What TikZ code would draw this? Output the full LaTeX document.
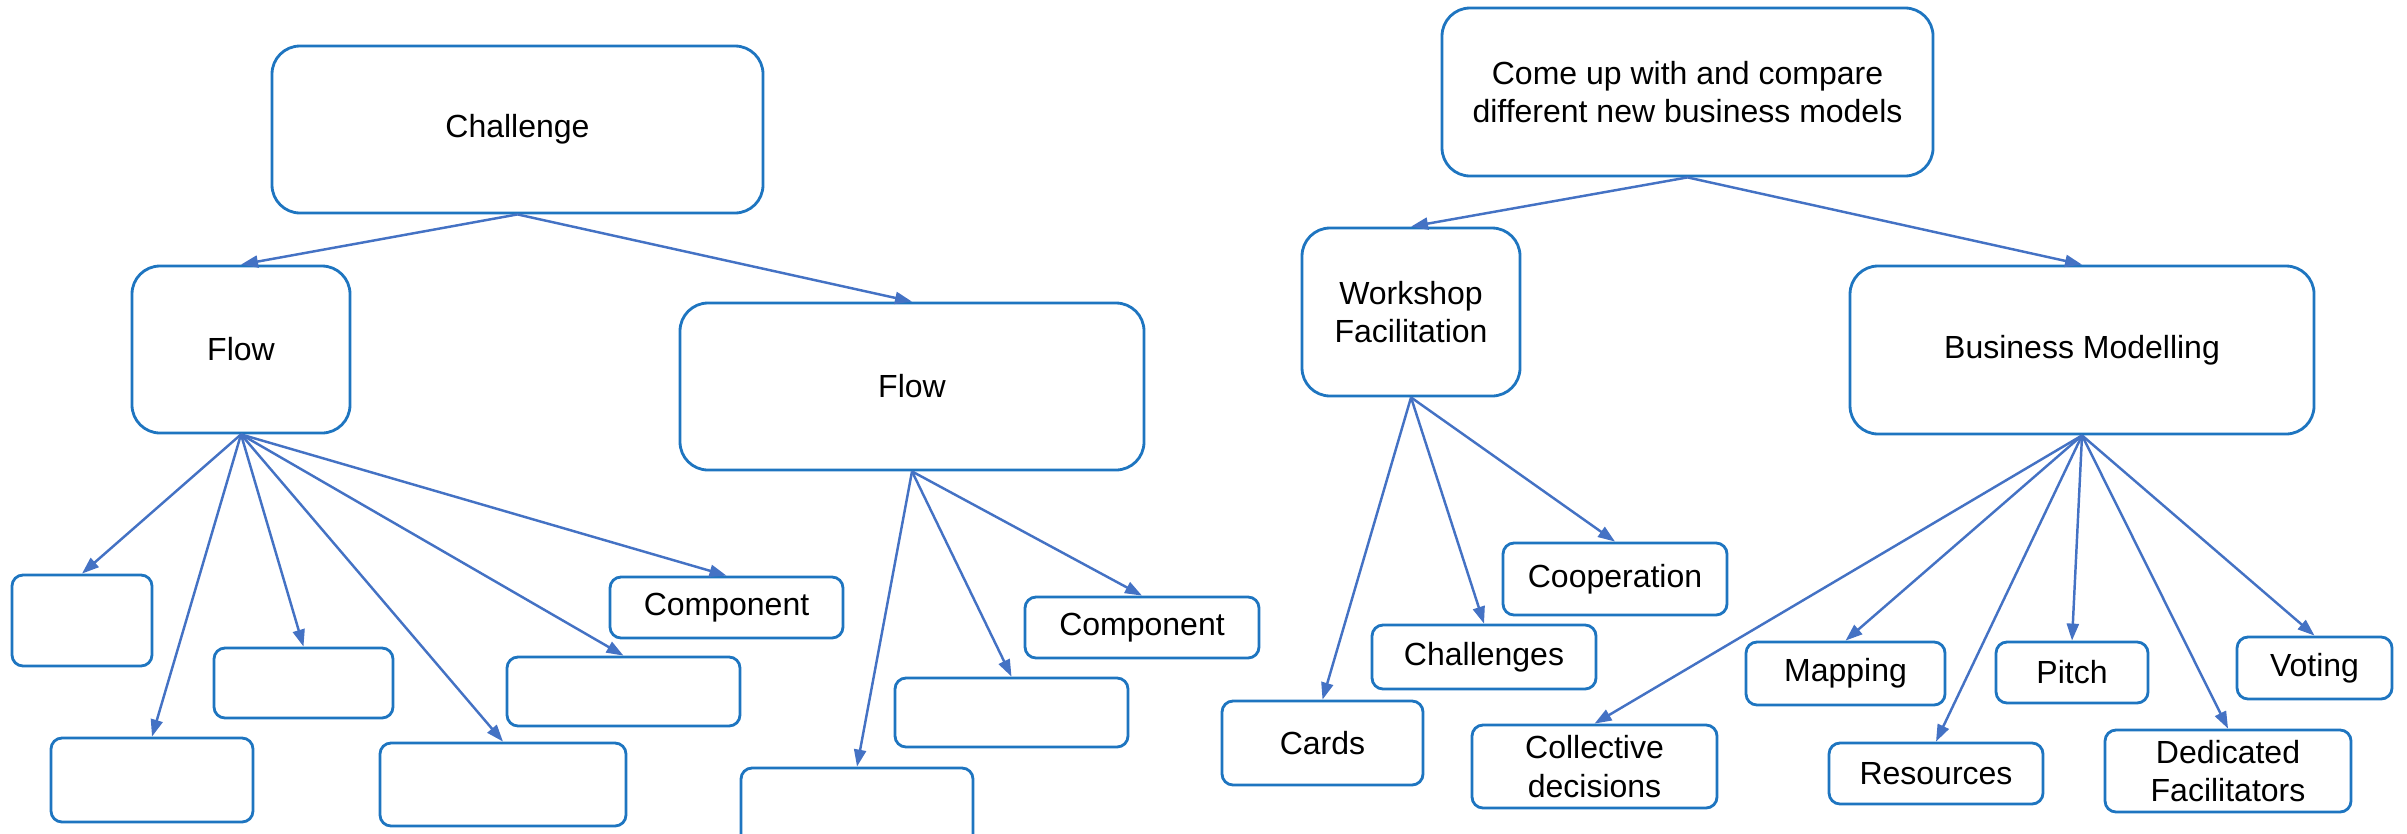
\documentclass[tikz,border=0pt]{standalone}
\usepackage{fontspec}
\setmainfont{Liberation Sans}
\usetikzlibrary{arrows.meta}
\definecolor{boxblue}{RGB}{30,117,192}
\definecolor{linkblue}{RGB}{68,114,196}
\begin{document}
\begin{tikzpicture}[x=0.01cm,y=-0.01cm,
  box/.style={draw=boxblue, line width=0.8pt, fill=white, rounded corners=0.11cm,
    align=center, inner sep=0pt, font=\fontsize{9.1}{11}\selectfont},
  bigbox/.style={box, rounded corners=0.28cm},
  link/.style={draw=linkblue, line width=0.7pt, -{Triangle[length=0.17cm,width=0.12cm]}},
  sz/.style 2 args={minimum width=#1*0.01cm, minimum height=#2*0.01cm}]
\useasboundingbox (0,0) rectangle (2407,833);

% left tree
\node[bigbox, sz={491}{167}] (chal) at (517.5,129.5) {Challenge};
\node[bigbox, sz={218}{167}] (flowL) at (241,349.5) {Flow};
\node[bigbox, sz={464}{167}] (flowR) at (912,386.5) {Flow};
\node[box, sz={140}{91}] (l1) at (82,620.5) {};
\node[box, sz={179}{70}] (l2) at (303.5,683) {};
\node[box, sz={202}{84}] (l3) at (152,780) {};
\node[box, sz={246}{83}] (l4) at (503,784.5) {};
\node[box, sz={233}{69}] (l5) at (623.5,691.5) {};
\node[box, sz={233}{61}] (l6) at (726.5,607.5) {Component};
\node[box, sz={234}{61}] (r1) at (1142,627.5) {Component};
\node[box, sz={233}{69}] (r2) at (1011.5,712.5) {};
\node[box, sz={232}{84}] (r3) at (857,810) {};

\draw[link] (chal.south) -- (flowL.north);
\draw[link] (chal.south) -- (flowR.north);
\foreach \c in {l1,l2,l3,l4,l5,l6}
  \draw[link] (flowL.south) -- (\c.north);
\foreach \c in {r1,r2,r3}
  \draw[link] (flowR.south) -- (\c.north);

% right tree
\node[bigbox, sz={491}{168}] (top) at (1687.5,92) {Come up with and compare\\different new business models};
\node[bigbox, sz={218}{168}] (wf) at (1411,312) {Workshop\\Facilitation};
\node[bigbox, sz={464}{168}] (bm) at (2082,350) {Business Modelling};
\node[box, sz={224}{72}] (coop) at (1615,579) {Cooperation};
\node[box, sz={224}{64}] (chs) at (1484,657) {Challenges};
\node[box, sz={201}{84}] (cards) at (1322.5,743) {Cards};
\node[box, sz={245}{83}] (coll) at (1594.5,766.5) {Collective\\decisions};
\node[box, sz={199}{63}] (map) at (1845.5,673.5) {Mapping};
\node[box, sz={214}{61}] (res) at (1936,773.5) {Resources};
\node[box, sz={152}{61}] (pitch) at (2072,672.5) {Pitch};
\node[box, sz={246}{82}] (ded) at (2228,771) {Dedicated\\Facilitators};
\node[box, sz={155}{62}] (vote) at (2314.5,668) {Voting};

\draw[link] (top.south) -- (wf.north);
\draw[link] (top.south) -- (bm.north);
\foreach \c in {coop,chs,cards}
  \draw[link] (wf.south) -- (\c.north);
\foreach \c in {coll,map,res,pitch,ded,vote}
  \draw[link] (bm.south) -- (\c.north);
\end{tikzpicture}
\end{document}
